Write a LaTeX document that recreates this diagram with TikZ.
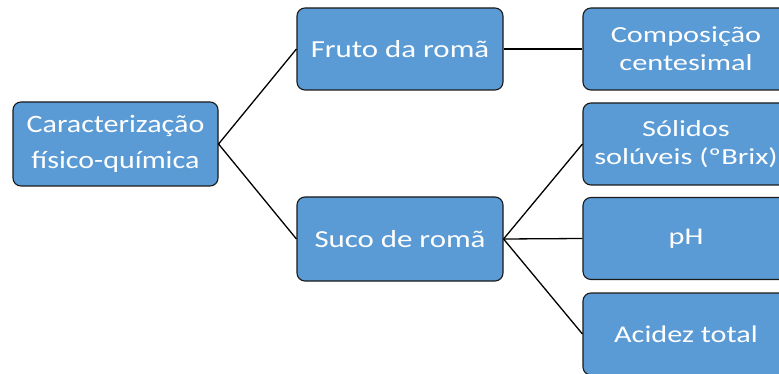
\documentclass[tikz,border=0pt]{standalone}
\usepackage{fontspec}
\setmainfont{Carlito}
\newfontfamily\fa[FakeStretch=1.20]{Carlito}
\newfontfamily\fb[FakeStretch=1.26]{Carlito}
\newfontfamily\fc[FakeStretch=1.32]{Carlito}
\definecolor{boxblue}{HTML}{5B9BD5}
\definecolor{boxedge}{HTML}{1A1A1A}
\begin{document}
\begin{tikzpicture}[x=1pt,y=-1pt,
  box/.style={draw=boxedge, line width=1.1pt, fill=boxblue, rounded corners=8pt,
    minimum width=206pt, minimum height=82pt, text=white, align=center, inner sep=0pt},
  link/.style={draw=black, line width=1.3pt}]
\clip (0,0) rectangle (779,374);
\fill[white] (0,0) rectangle (779,374);
\node[box, minimum width=205pt, minimum height=84pt, font=\fa\fontsize{25}{36}\selectfont] (root) at (115.5,144) {Caracterização\\físico-química};
\node[box, font=\fb\fontsize{24.5}{28}\selectfont] (fruto) at (400,49) {Fruto da romã};
\node[box, minimum height=84pt, font=\fb\fontsize{24.5}{28}\selectfont] (suco) at (400,239) {Suco de romã};
\node[box, font=\fc\fontsize{23}{28}\selectfont] (comp) at (686,49) {Composição\\centesimal};
\node[box, font=\fc\fontsize{23}{28}\selectfont] (sol) at (686,144) {Sólidos\\solúveis (ºBrix)};
\node[box, font=\fb\fontsize{24}{28}\selectfont] (ph) at (686,238.5) {pH};
\node[box, font=\fb\fontsize{24}{28}\selectfont] (acid) at (686,334) {Acidez total};
\draw[link] (root.east) -- (fruto.west);
\draw[link] (root.east) -- (suco.west);
\draw[link] (fruto.east) -- (comp.west);
\draw[link] (suco.east) -- (sol.west);
\draw[link] (suco.east) -- (ph.west);
\draw[link] (suco.east) -- (acid.west);
\end{tikzpicture}
\end{document}
